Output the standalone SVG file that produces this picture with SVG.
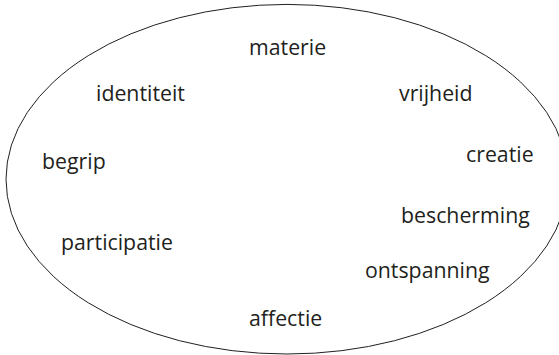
<svg xmlns="http://www.w3.org/2000/svg" width="559" height="355" viewBox="0 0 559 355">
<style>
.t{font-family:"Open Sans","Noto Sans","Liberation Sans",sans-serif;font-size:21.3px;fill:#231f20}
.e{fill:none;stroke:#231f20;stroke-width:1}
</style>
<rect width="559" height="355" fill="#fff"/>
<g id="grens"><ellipse class="e" cx="287" cy="179.2" rx="281" ry="174.8"/></g>
<g id="materie"><text class="t" x="249" y="55">materie</text></g>
<g id="identiteit"><text class="t" x="96" y="101">identiteit</text></g>
<g id="vrijheid"><text class="t" x="399" y="101">vrijheid</text></g>
<g id="begrip"><text class="t" x="42" y="169">begrip</text></g>
<g id="creatie"><text class="t" x="466" y="162">creatie</text></g>
<g id="bescherming"><text class="t" x="401" y="223">bescherming</text></g>
<g id="participatie"><text class="t" x="61" y="250">participatie</text></g>
<g id="ontspanning"><text class="t" x="365" y="278">ontspanning</text></g>
<g id="affectie"><text class="t" x="249" y="326">affectie</text></g>
</svg>
